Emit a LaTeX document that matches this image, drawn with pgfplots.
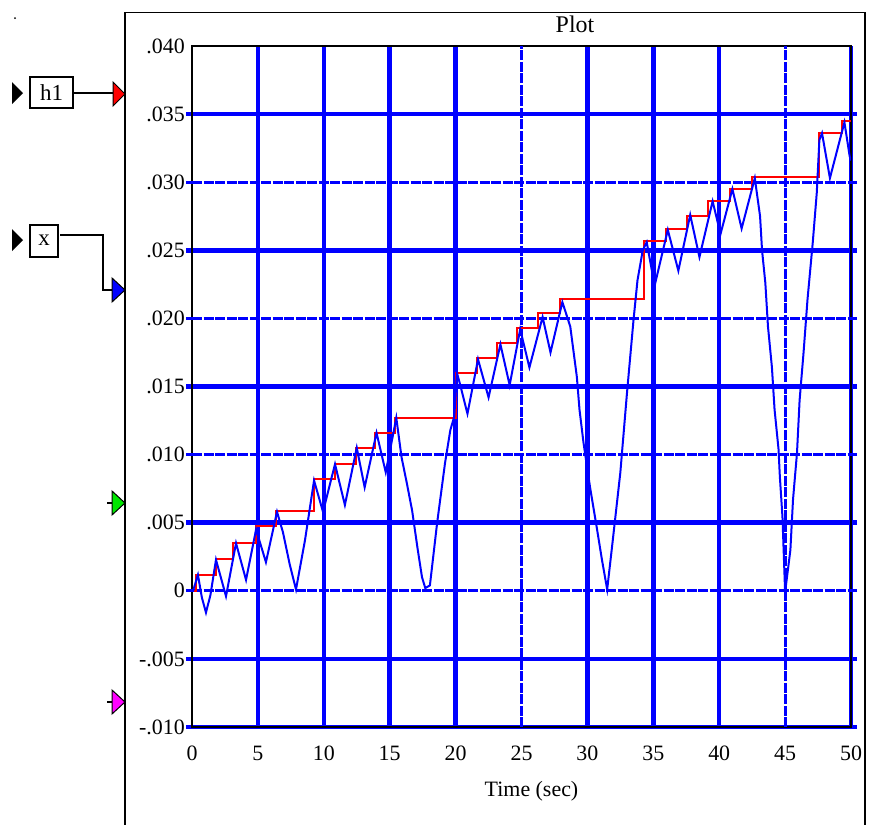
\documentclass[border=0pt]{standalone}
\usepackage{fontspec}
\setmainfont{Liberation Serif}
\usepackage{pgfplots}
\pgfplotsset{compat=1.18}

\definecolor{vblue}{RGB}{0,0,255}
\definecolor{vred}{RGB}{255,0,0}
\definecolor{vgreen}{RGB}{0,230,0}
\definecolor{vmag}{RGB}{255,0,255}

\newcommand{\lab}{\fontsize{22}{24}\selectfont}

\pgfplotsset{
  plotbox/.style={
    at={(192bp,-727bp)}, anchor=south west,
    width=659bp, height=681bp, scale only axis,
    xmin=0, xmax=50, ymin=-0.010, ymax=0.040,
    scaled y ticks=false,
    tick align=outside,
    major tick length=6bp,
    xtick style={draw=none},
    xticklabel style={font=\lab, anchor=north, inner sep=0, yshift=-13bp},
    yticklabel style={font=\lab, anchor=east, inner sep=0, xshift=-1bp},
  },
}

\begin{document}
\begin{tikzpicture}[x=1bp,y=-1bp]
  \path[use as bounding box] (0,0) rectangle (877,825);

  % block frame
  \draw[black, line width=1.5bp] (125,825) -- (125,12.5) -- (865,12.5) -- (865,825);
  \node[anchor=base, inner sep=0, font=\fontsize{24}{26}\selectfont] at (575,32) {Plot};

  % input blocks on the left
  \fill (15,18) circle (1bp);
  \fill[black] (12,82) -- (23,93) -- (12,104) -- cycle;
  \draw[line width=1.2bp] (30,77) rectangle (73,108);
  \node[font=\fontsize{23}{25}\selectfont] at (51.5,92.5) {h1};
  \draw[line width=1.2bp] (73,93) -- (113,93);
  \draw[line width=1bp, fill=vred] (113,82) -- (125,94) -- (113,106) -- cycle;

  \fill[black] (12,229) -- (23,240) -- (12,251) -- cycle;
  \draw[line width=1.2bp] (30,225) rectangle (58,257);
  \node[font=\fontsize{23}{25}\selectfont] at (44,240) {x};
  \draw[line width=1.2bp] (60,235) -- (103,235) -- (103,290) -- (112,290);
  \draw[line width=1bp, fill=vblue] (112,278) -- (125,290) -- (112,302) -- cycle;

  \draw[line width=1.2bp] (107,503) -- (112,503);
  \draw[line width=1bp, fill=vgreen] (112,491) -- (125,503) -- (112,515) -- cycle;
  \draw[line width=1.2bp] (107,702) -- (112,702);
  \draw[line width=1bp, fill=vmag] (112,690) -- (125,702) -- (112,714) -- cycle;

  \begin{axis}[
      plotbox,
      axis line style={black, line width=2bp},
      xtick={5,10,15,20,30,35,40,50},
      xticklabels={5,10,15,20,30,35,40,50},
      extra x ticks={25,45},
      extra x tick labels={25,45},
      extra x tick style={grid=major, major grid style={vblue, line width=3bp, dash pattern=on 10bp off 1.5bp}},
      ytick={-0.010,-0.005,0.005,0.015,0.025,0.035},
      yticklabels={-.010,-.005,.005,.015,.025,.035},
      extra y ticks={0,0.010,0.020,0.030},
      extra y tick labels={0,.010,.020,.030},
      extra y tick style={grid=major, major grid style={vblue, line width=3bp, dash pattern=on 10bp off 1.5bp},
                          ytick style={vblue, line width=3bp}},
      grid=major,
      major grid style={vblue, line width=4.5bp},
      ytick style={vblue, line width=4.5bp},
      xlabel={Time (sec)},
      xlabel style={font=\lab, at={(axis description cs:0.5,0)}, anchor=base, inner sep=0, yshift=-69bp, xshift=10bp},
    ]
    % held maximum (red staircase)
    \addplot[const plot, vred, line width=2bp] coordinates {
      (0,0) (0.30,0.00117) (1.82,0.00235) (3.11,0.00352) (4.86,0.00477)
      (6.37,0.00587) (9.26,0.00822) (10.85,0.00932) (12.44,0.0105)
      (13.88,0.0116) (15.40,0.0127) (20.03,0.0160) (21.62,0.0171)
      (23.14,0.0182) (24.66,0.0193) (26.25,0.0204) (27.92,0.0214)
      (34.30,0.0257) (35.96,0.0266) (37.56,0.0275) (39.15,0.0286)
      (40.82,0.0295) (42.49,0.0304) (47.57,0.0336) (49.32,0.0345) (50,0.0345)
    };
    % signal x (blue)
    \addplot[vblue, line width=2bp] coordinates {
      (0,0) (0.08,0.0000) (0.45,0.00117) (0.75,-0.0005) (1.06,-0.0016)
      (1.40,-0.0003) (1.82,0.00228) (2.58,-0.0004) (3.34,0.0035) (4.10,0.0008)
      (4.86,0.0045) (5.61,0.0021) (6.45,0.0058) (6.9,0.0043) (7.4,0.0020)
      (7.89,0.0001) (8.57,0.0037) (9.26,0.0081) (9.94,0.0058) (10.85,0.0093)
      (11.6,0.0063) (12.5,0.0105) (13.1,0.0076) (14.0,0.0116) (14.7,0.0087)
      (15.5,0.0127) (15.9,0.0098) (16.3,0.0079) (16.7,0.0059) (17.1,0.0032)
      (17.45,0.0010) (17.7,0.0002) (18.05,0.0004) (18.6,0.0050) (19.2,0.0094)
      (19.6,0.0118) (19.9,0.0128) (20.1,0.0160) (20.3,0.0153) (20.9,0.0130)
      (21.7,0.0170) (22.5,0.0142) (23.4,0.0181) (24.1,0.0151) (24.9,0.0192)
      (25.6,0.0164) (26.6,0.0201) (27.2,0.0175) (28.1,0.0212) (28.7,0.0194)
      (29.2,0.0157) (29.4,0.0133) (29.7,0.0109) (30.2,0.0076) (30.7,0.0047)
      (31.1,0.0023) (31.5,0.0001) (31.9,0.0035) (32.5,0.0087) (33.0,0.0145)
      (33.5,0.0199) (33.8,0.0228) (34.2,0.0250) (34.5,0.0256) (35.1,0.0224)
      (36.1,0.0265) (36.9,0.0235) (37.8,0.0276) (38.5,0.0245) (39.5,0.0286)
      (40.1,0.0262) (41.0,0.0295) (41.7,0.0266) (42.7,0.0303) (43.1,0.0275)
      (43.25,0.0250) (43.5,0.0226) (43.7,0.0194) (44.0,0.0164) (44.2,0.0133)
      (44.5,0.0104) (44.6,0.0084) (44.8,0.0054) (45.0,-0.0001) (45.4,0.0030)
      (45.6,0.0067) (45.9,0.0101) (46.1,0.0140) (46.4,0.0175) (46.7,0.0214)
      (47.1,0.0256) (47.4,0.0292) (47.6,0.0331) (47.8,0.0336) (48.4,0.0303)
      (49.5,0.0344) (49.9,0.0319) (50,0.0316)
    };
  \end{axis}

  % labels at the left and top edges, which carry no grid line
  \begin{axis}[
      plotbox,
      axis line style={draw=none},
      ytick style={draw=none},
      xtick={0}, xticklabels={0},
      ytick={0.040}, yticklabels={.040},
    ]
  \end{axis}
\end{tikzpicture}
\end{document}
